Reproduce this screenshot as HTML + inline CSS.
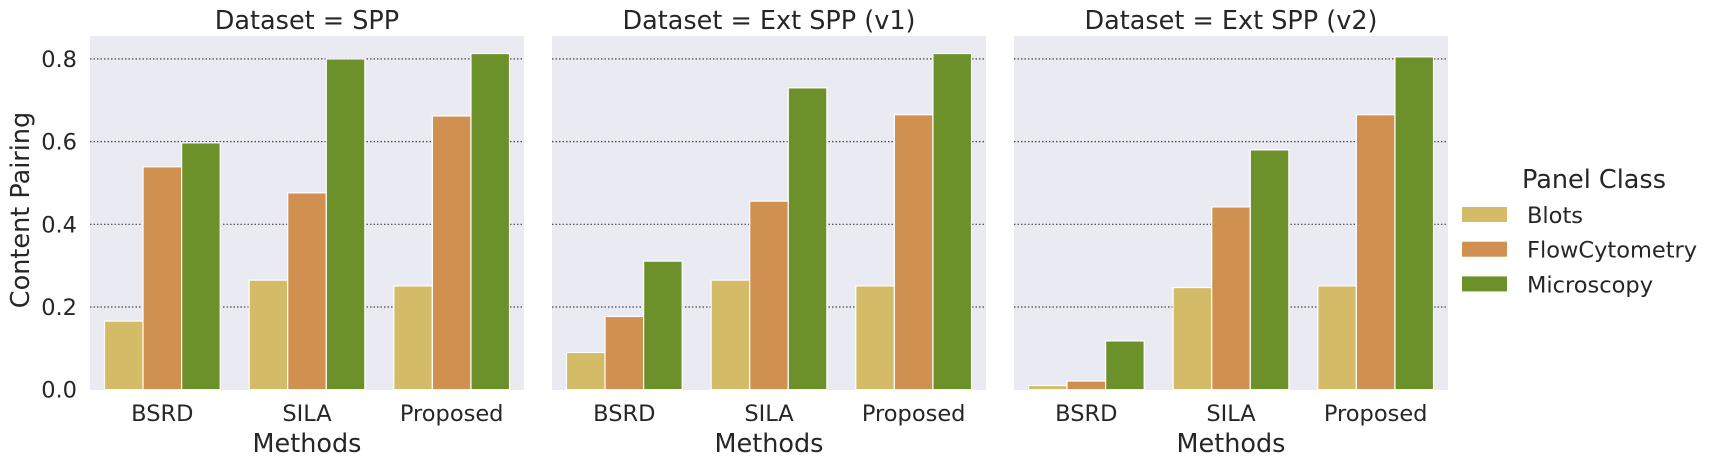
<!DOCTYPE html>
<html><head><meta charset="utf-8"><style>
body{margin:0;background:#fff;}
svg text{font-family:"DejaVu Sans","Liberation Sans",sans-serif;fill:#262626;}
</style></head><body>
<svg id="chart" width="1718" height="465"></svg>
<script>
const datasets = ["Dataset = SPP", "Dataset = Ext SPP (v1)", "Dataset = Ext SPP (v2)"];
const methods = ["BSRD", "SILA", "Proposed"];
const classes = ["Blots", "FlowCytometry", "Microscopy"];
const colors = ["#d4bb67", "#cf9050", "#6d912a"];
const spp = [[0.166, 0.539, 0.597], [0.265, 0.476, 0.80], [0.251, 0.662, 0.813]];
const extV1 = [[0.090, 0.177, 0.311], [0.265, 0.456, 0.730], [0.251, 0.665, 0.813]];
const extV2 = [[0.010, 0.021, 0.118], [0.247, 0.442, 0.580], [0.251, 0.665, 0.805]];
const yTicks = [0.0, 0.2, 0.4, 0.6, 0.8];
const allValues = [spp, extV1, extV2];

const NS = "http://www.w3.org/2000/svg";
const svg = document.getElementById("chart");
function mk(tag, attrs, parent) {
  const e = document.createElementNS(NS, tag);
  for (const k in attrs) e.setAttribute(k, attrs[k]);
  (parent || svg).appendChild(e);
  return e;
}
const panelX = [90, 552, 1014], panelW = 434, plotTop = 36, plotBottom = 390;
const y0 = 389.7, pxPerUnit = 413.5;
const yScale = v => y0 - v * pxPerUnit;

datasets.forEach((ds, p) => {
  const x0 = panelX[p];
  const g = mk("g", {});
  
  
  const bg = mk("rect", {x: x0, y: plotTop, width: panelW, height: plotBottom - plotTop, fill: "#eaeaf2"}, g);
  
  
  yTicks.forEach(t => {
    if (t === 0) return;
    const l = mk("line", {x1: x0, x2: x0 + panelW, y1: yScale(t), y2: yScale(t), stroke: "#444", "stroke-width": 1.2, "stroke-dasharray": "1.5,2"}, g);
    
    
  });
  if (p === 0) {
    yTicks.forEach(t => {
      const tx = mk("text", {x: 77, y: yScale(t) + 8, "text-anchor": "end", "font-size": 22.5}, g);
      tx.textContent = t.toFixed(1);
      
      
    });
  }
  const groupW = panelW / methods.length;
  const barW = groupW * 0.8 / classes.length;
  methods.forEach((m, i) => {
    const cx = x0 + groupW * (i + 0.5);
    classes.forEach((c, j) => {
      const v = allValues[p][i][j];
      const bx = cx - groupW * 0.4 + j * barW;
      const r = mk("rect", {x: bx, y: yScale(v), width: barW, height: y0 - yScale(v), fill: colors[j], stroke: "#fff", "stroke-width": 1.2}, g);
      
      
    });
    const tl = mk("text", {x: cx, y: 421, "text-anchor": "middle", "font-size": 22.5}, g);
    tl.textContent = m;
    
    
  });
  const ti = mk("text", {x: x0 + panelW / 2, y: 29, "text-anchor": "middle", "font-size": 25.5}, g);
  ti.textContent = ds;
  
  
  const xl = mk("text", {x: x0 + panelW / 2, y: 452, "text-anchor": "middle", "font-size": 25.5}, g);
  xl.textContent = "Methods";
  
  
});

const yl = mk("text", {x: 0, y: 0, "text-anchor": "middle", "font-size": 25.5, transform: "translate(29,210) rotate(-90)"});
yl.textContent = "Content Pairing";



const lg = mk("g", {});


const lt = mk("text", {x: 1594, y: 188, "text-anchor": "middle", "font-size": 25.5}, lg);
lt.textContent = "Panel Class";


classes.forEach((c, j) => {
  const y = 207 + j * 34.7;
  const r = mk("rect", {x: 1462, y: y, width: 45, height: 15, fill: colors[j]}, lg);
  
  
  const t = mk("text", {x: 1527, y: y + 16, "font-size": 22.5}, lg);
  t.textContent = c;
  
  
});
</script>
</body></html>
